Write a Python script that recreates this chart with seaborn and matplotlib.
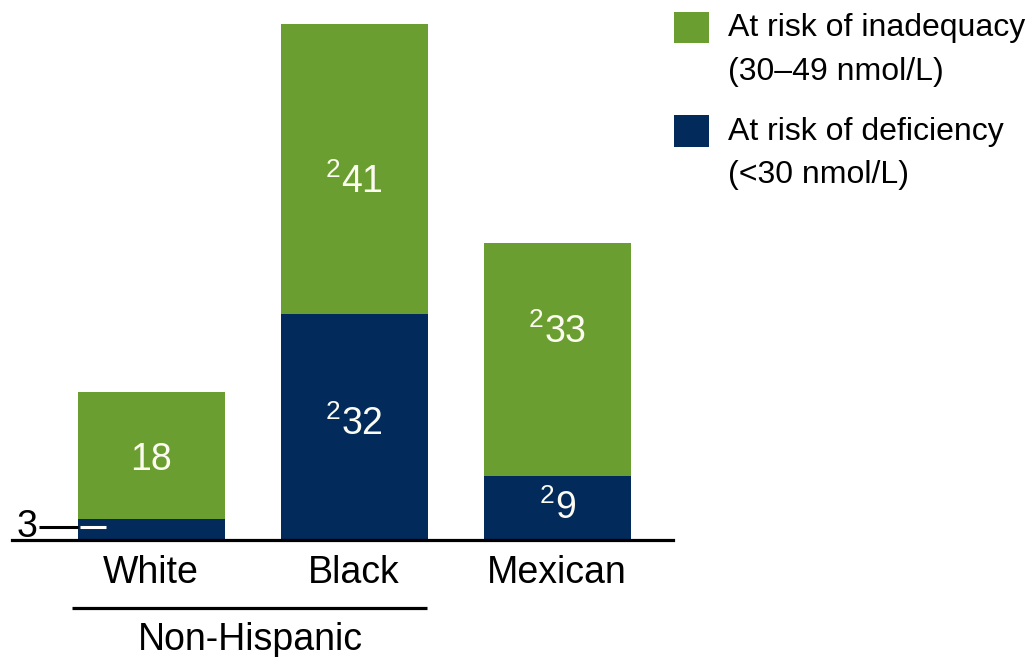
import matplotlib
matplotlib.use("Agg")
import matplotlib.pyplot as plt
import matplotlib.transforms as mtransforms
from matplotlib.patches import Rectangle
import seaborn as sns
import pandas as pd

# Vitamin D status by race/ethnicity (percent)
groups = ["White", "Black", "Mexican"]
deficiency = [3, 32, 9]       # <30 nmol/L
inadequacy = [18, 41, 33]     # 30-49 nmol/L
deficiency_labels = ["3", "$^{2}$32", "$^{2}$9"]
inadequacy_labels = ["18", "$^{2}$41", "$^{2}$33"]
legend_lines = [
    ("At risk of inadequacy", "(30\u201349 nmol/L)"),
    ("At risk of deficiency", "(<30 nmol/L)"),
]
group_caption = "Non-Hispanic"

GREEN = "#6b9e30"
NAVY = "#022a5a"
LABEL_FS = 27

sns.set_theme(style="white")
plt.rcParams["font.family"] = ["Liberation Sans", "DejaVu Sans"]
plt.rcParams["mathtext.fontset"] = "custom"
plt.rcParams["mathtext.rm"] = "Liberation Sans"
plt.rcParams["mathtext.it"] = "Liberation Sans:italic"
plt.rcParams["mathtext.bf"] = "Liberation Sans:bold"

W, H = 1026, 657
fig = plt.figure(figsize=(W / 100, H / 100), dpi=100)
ax = fig.add_axes([12 / W, (H - 540) / H, 661 / W, 516 / H])

df = pd.DataFrame({
    "group": groups,
    "deficiency": deficiency,
    "total": [d + i for d, i in zip(deficiency, inadequacy)],
})

bar_w = 0.724
sns.barplot(data=df, x="group", y="total", color=GREEN, saturation=1,
            width=bar_w, linewidth=0, ax=ax)
sns.barplot(data=df, x="group", y="deficiency", color=NAVY, saturation=1,
            width=bar_w, linewidth=0, ax=ax)

ax.set_xlim(-0.685, 2.571)
ax.set_ylim(0, 73)
ax.set_xlabel("")
ax.set_ylabel("")
ax.set_yticks([])
ax.tick_params(axis="x", length=0, pad=11, labelsize=LABEL_FS,
               labelcolor="black")
for side in ("top", "left", "right"):
    ax.spines[side].set_visible(False)
ax.spines["bottom"].set_color("black")
ax.spines["bottom"].set_linewidth(2.3)

# Value labels inside the segments (small nudges off the segment centre)
upper_nudge = [-0.7, -1.9, 3.9]
lower_nudge = [0.0, 0.4, 0.0]
for i, (d, v) in enumerate(zip(deficiency, inadequacy)):
    ax.text(i, d + v / 2 + upper_nudge[i], inadequacy_labels[i],
            ha="center", va="center", color="#fbfbf0", fontsize=LABEL_FS)
    if d >= 5:
        ax.text(i, d / 2 + lower_nudge[i], deficiency_labels[i],
                ha="center", va="center", color="#fbfbf0", fontsize=LABEL_FS)

# Leader line for the small White deficiency segment
y_small = deficiency[0] / 2 + 0.4
half = bar_w / 2
ax.plot([-0.55, -half], [y_small, y_small], color="black", lw=2.2,
        clip_on=False, solid_capstyle="butt")
ax.plot([-half + 0.01, -half + 0.14], [y_small, y_small], color="white",
        lw=2.2, clip_on=False, solid_capstyle="butt")
ax.text(-0.56, y_small, deficiency_labels[0], ha="right", va="center",
        fontsize=LABEL_FS, color="black")

# Group bracket under the first two categories
trans = mtransforms.blended_transform_factory(ax.transData, ax.transAxes)
ax.plot([-0.39, 1.36], [-0.132, -0.132], color="black", lw=2.3,
        transform=trans, clip_on=False, solid_capstyle="butt")
ax.text(0.49, -0.193, group_caption, ha="center", va="center",
        fontsize=LABEL_FS, transform=trans, color="black")

# Legend
swatches = [(GREEN, 12, 43), (NAVY, 115, 147)]
text_rows = [(28, 72), (132, 175)]
for (col, top, bottom), (l1, l2), (y1, y2) in zip(swatches, legend_lines, text_rows):
    fig.add_artist(Rectangle((674 / W, (H - bottom) / H), 35 / W,
                             (bottom - top) / H, transform=fig.transFigure,
                             facecolor=col, edgecolor="none"))
    fig.text(728 / W, (H - y1) / H, l1, ha="left", va="center",
             fontsize=23, color="black")
    fig.text(728 / W, (H - y2) / H, l2, ha="left", va="center",
             fontsize=23, color="black")

fig.savefig("out.png", dpi=100, facecolor="white")
